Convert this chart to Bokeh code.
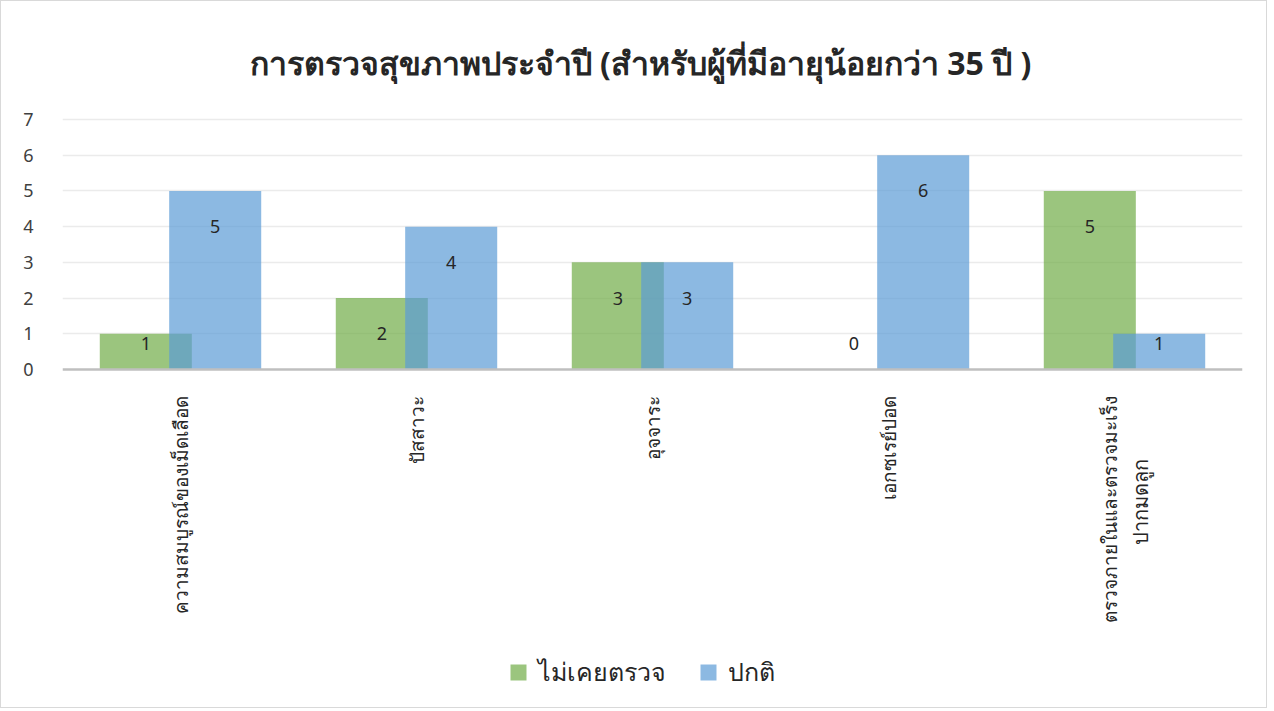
from bokeh.plotting import figure
from bokeh.models import Range1d, FixedTicker, Legend, LegendItem, ColumnDataSource, Span
from bokeh.core.properties import value
from bokeh.embed import file_html
from bokeh.resources import INLINE
import math

title_text = "การตรวจสุขภาพประจำปี (สำหรับผู้ที่มีอายุน้อยกว่า 35 ปี )"
categories = [
    "ความสมบูรณ์ของเม็ดเลือด",
    "ปัสสาวะ",
    "อุจจาระ",
    "เอกซเรย์ปอด",
    "ตรวจภายในและตรวจมะเร็ง\nปากมดลูก",
]
series_names = ["ไม่เคยตรวจ", "ปกติ"]
never_checked = [1, 2, 3, 0, 5]
normal = [5, 4, 3, 6, 1]
y_ticks = [0, 1, 2, 3, 4, 5, 6, 7]

FONT = "Noto Sans"
GREEN = "#70AD47"
BLUE = "#5B9BD5"
TXT = "#262626"

W, H = 1267, 708
PLOT_TOP_PX = 118           # pixels from figure top down to the value 7
TITLE_PX = 61               # title centre, pixels from figure top
px_per_unit = 250 / 7
y_max = 7 + PLOT_TOP_PX / px_per_unit
y_min = y_max - H / px_per_unit
n = len(categories)

p = figure(width=W, height=H, output_backend="svg", toolbar_location=None,
           x_range=Range1d(-0.5, n - 0.5), y_range=Range1d(y_min, y_max))
p.styles = {"border": "1px solid #D9D9D9"}

p.min_border_left = 61
p.min_border_right = 26
p.min_border_top = 0
p.min_border_bottom = 0
p.outline_line_color = None
p.background_fill_color = "white"
p.border_fill_color = "white"

# title (centred on the whole chart, not only the plot area)
p.text(x=[(n - 1) / 2], y=[y_max - TITLE_PX / px_per_unit], text=[title_text],
       x_offset=-12, text_align="center", text_baseline="middle",
       text_font=value(FONT), text_font_size="32px", text_font_style="bold", text_color=TXT)

xs = list(range(n))
off = 0.147
bw = 0.39
r1 = p.vbar(x=[x - off for x in xs], top=never_checked, width=bw, bottom=0,
            fill_color=GREEN, fill_alpha=0.7, line_color=None)
r2 = p.vbar(x=[x + off for x in xs], top=normal, width=bw, bottom=0,
            fill_color=BLUE, fill_alpha=0.7, line_color=None)

# baseline (category axis line)
p.add_layout(Span(location=0, dimension="width", line_color="#BFBFBF", line_width=2.5))

# data labels
lab_x = [x - off for x in xs] + [x + off for x in xs]
vals = never_checked + normal
lab_y = [max(v - 1.0, 0.73) for v in vals]
src = ColumnDataSource(dict(x=lab_x, y=lab_y, t=[str(v) for v in vals]))
p.text(x="x", y="y", text="t", source=src, text_align="center", text_baseline="middle",
       text_font=value(FONT), text_font_size="18px", text_color=TXT)

# category labels (rotated, reading bottom-to-top); wrapped labels get a centred 2nd line
first_lines = [c.split("\n")[0] for c in categories]
first_dx = [-15 if "\n" in c else 0 for c in categories]
csrc = ColumnDataSource(dict(x=xs, y=[0] * n, t=first_lines, dx=first_dx))
p.text(x="x", y="y", text="t", source=csrc, angle=math.pi / 2, y_offset=26, x_offset="dx",
       text_align="right", text_baseline="middle",
       text_font=value(FONT), text_font_size="19px", text_color=TXT)
sec_x = [i for i, c in enumerate(categories) if "\n" in c]
sec_t = [categories[i].split("\n")[1] for i in sec_x]
ssrc = ColumnDataSource(dict(x=sec_x, y=[0] * len(sec_x), t=sec_t))
p.text(x="x", y="y", text="t", source=ssrc, angle=math.pi / 2, y_offset=132, x_offset=16,
       text_align="center", text_baseline="middle",
       text_font=value(FONT), text_font_size="20px", text_color=TXT)

p.xaxis.visible = False

p.yaxis.ticker = FixedTicker(ticks=y_ticks)
p.yaxis.axis_line_color = None
p.yaxis.major_tick_line_color = None
p.yaxis.minor_tick_line_color = None
p.yaxis.major_label_text_font = FONT
p.yaxis.major_label_text_font_size = "18px"
p.yaxis.major_label_text_color = "#404040"
p.yaxis.major_label_standoff = 23

p.xgrid.grid_line_color = None
p.ygrid.ticker = FixedTicker(ticks=y_ticks[1:])
p.ygrid.grid_line_color = "#EBEBEB"
p.ygrid.grid_line_width = 1.5

legend = Legend(items=[LegendItem(label=series_names[0], renderers=[r1]),
                       LegendItem(label=series_names[1], renderers=[r2])],
                orientation="horizontal", location=(446, 17),
                label_text_font=FONT, label_text_font_size="25px",
                label_text_color=TXT, glyph_width=20, glyph_height=20,
                spacing=32, border_line_color=None, background_fill_alpha=0,
                margin=0, padding=5, label_standoff=10)
p.add_layout(legend, "center")

open("out.html", "w").write(file_html(p, INLINE))
